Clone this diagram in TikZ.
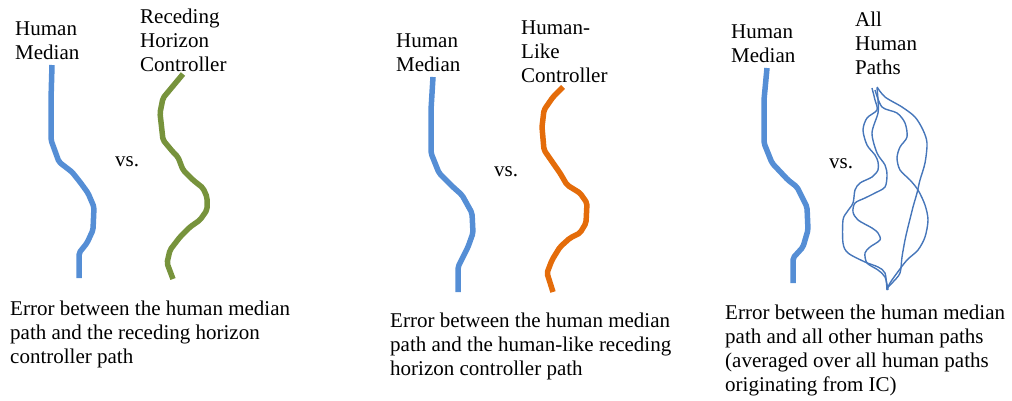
\documentclass[tikz,border=0pt]{standalone}
\usepackage{fontspec}
\setmainfont{Liberation Serif}
\definecolor{medianblue}{RGB}{85,142,213}
\definecolor{rhcgreen}{RGB}{119,147,60}
\definecolor{hlcorange}{RGB}{228,108,10}
\definecolor{pathsblue}{RGB}{70,118,186}

\begin{document}
\begin{tikzpicture}[x=1pt,y=-1pt,
  txt/.style={anchor=base west, inner sep=0pt, align=left, font=\fontsize{21}{24}\selectfont},
  median/.style={medianblue, line width=5.5pt, line join=round, rounded corners=2pt},
  ctrl/.style={line width=5.5pt, line join=round, rounded corners=2pt},
  human/.style={pathsblue, line width=1.4pt, line join=round}]
  \useasboundingbox (0,0) rectangle (1012,400);

  % panel 1: receding horizon controller
  % (base of a multi-line node = its last line)
  \node[txt] (hm1) at (15,59) {Human\\Median};
  \node[txt] (rhc) at (140,71) {Receding\\Horizon\\Controller};
  \node[txt] (vs1) at (115,166) {vs.};
  \draw[median] (52,65) -- (51,100) -- (51,140) -- (59,162) -- (72,172) -- (80,182) -- (88,193) -- (94,207) -- (93,230) -- (87,243) -- (79,253) -- (79,278);
  \draw[ctrl, rhcgreen] (183,74) -- (163,98) -- (160,113) -- (163,140) -- (173,152) -- (178,157) -- (183,170) -- (193,180) -- (203,188) -- (207,197) -- (207,210) -- (200,220) -- (190,227) -- (180,237) -- (170,250) -- (167,263) -- (173,279);
  \node[txt] (err1) at (10,363) {Error between the human median\\path and the receding horizon\\controller path};

  % panel 2: human-like controller
  \node[txt] (hm2) at (396,71) {Human\\Median};
  \node[txt] (hlc) at (521,82) {Human-\\Like\\Controller};
  \node[txt] (vs2) at (494,176) {vs.};
  \draw[median] (433,77) -- (431,110) -- (431,153) -- (439,173) -- (453,187) -- (462,195) -- (472,213) -- (473,233) -- (468,247) -- (460,263) -- (458,267) -- (458,292);
  \draw[ctrl, hlcorange] (563,87) -- (553,97) -- (544,110) -- (542,127) -- (544,150) -- (553,163) -- (560,173) -- (567,185) -- (580,193) -- (587,203) -- (586,223) -- (580,233) -- (570,238) -- (560,247) -- (552,260) -- (547,273) -- (553,292);
  \node[txt] (err2) at (390,375) {Error between the human median\\path and the human-like receding\\horizon controller path};

  % panel 3: all human paths
  \node[txt] (hm3) at (731,62) {Human\\Median};
  \node[txt] (ahp) at (855,74) {All\\Human\\Paths};
  \node[txt] (vs3) at (829,168) {vs.};
  \draw[median] (767,68) -- (764,100) -- (764,143) -- (772,163) -- (788,180) -- (797,187) -- (807,207) -- (808,230) -- (803,247) -- (793,258) -- (793,283);
  \draw[human] plot[smooth, tension=0.5] coordinates {(872,88) (875,100) (877,110) (867,118) (863,130) (867,145) (875,155) (878,162) (878,170) (872,177) (860,183) (855,190) (853,203) (847,212) (843,220) (843,243) (848,253) (865,262) (878,267) (885,273) (887,290)};
  \draw[human] plot[smooth, tension=0.5] coordinates {(877,88) (878,100) (878,113) (872,133) (877,153) (885,165) (887,175) (885,187) (875,193) (865,198) (855,203) (853,212) (858,220) (872,228) (878,233) (880,240) (870,247) (865,253) (867,263) (878,270) (885,277) (888,290)};
  \draw[human] plot[smooth, tension=0.5] coordinates {(875,90) (882,107) (897,113) (905,123) (907,137) (900,147) (897,158) (900,170) (910,180) (918,190) (925,205) (928,220) (925,237) (918,250) (907,260) (897,273) (890,283) (887,290)};
  \draw[human] plot[smooth, tension=0.5] coordinates {(877,87) (885,97) (902,107) (915,117) (923,130) (927,143) (925,163) (920,180) (917,193) (913,207) (908,227) (905,240) (902,257) (900,273) (893,282) (888,287)};
  \node[txt] (err3) at (725,391) {Error between the human median\\path and all other human paths\\(averaged over all human paths\\originating from IC)};
\end{tikzpicture}
\end{document}
